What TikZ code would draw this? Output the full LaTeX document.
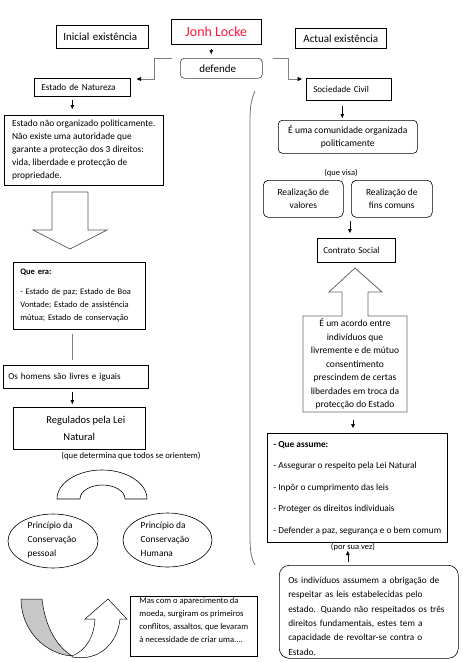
\documentclass[tikz,border=0pt]{standalone}
\usepackage{fontspec}
\setmainfont{Carlito}
\usetikzlibrary{arrows.meta,calc,shapes.geometric}
\definecolor{lockered}{RGB}{255,20,60}
\definecolor{linegray}{RGB}{128,128,128}
\newcommand{\fsz}[2]{\fontsize{#1}{#2}\selectfont}
\begin{document}
\begin{tikzpicture}[x=1pt,y=-1pt,
  box/.style={draw=black, line width=0.6pt, anchor=north west, inner sep=0pt, font=\fsz{9.4}{13}},
  rbox/.style={box, rounded corners=4pt},
  arr/.style={draw=black, line width=0.5pt, -{Triangle[length=4pt,width=3.6pt]}},
  conn/.style={draw=linegray, line width=0.8pt, -{Triangle[length=4.5pt,width=4pt,color=black]}},
  ell/.style={draw=black, line width=0.6pt, ellipse, minimum width=90pt, minimum height=54pt, inner sep=0pt},
  lbl/.style={inner sep=0pt, font=\fsz{8.5}{10}},
  shapeline/.style={line width=0.6pt}]
\fill[white] (0,0) rectangle (463,662);
\useasboundingbox (0,0) rectangle (463,662);

% top row
\node[box, minimum width=92pt, minimum height=23pt, inner xsep=7pt, text width=78pt, align=left, font=\fsz{11}{13}] (ini) at (56,25) {Inicial existência};
\node[box, minimum width=90pt, minimum height=25pt, align=center, font=\fsz{14}{16}, text=lockered] (jl) at (171,19) {Jonh Locke};
\node[box, minimum width=91pt, minimum height=20pt, font=\fsz{11}{13}] (act) at (295,28) {Actual existência};
\node[rbox, draw=black!75, minimum width=82pt, minimum height=20pt, inner xsep=19pt, text width=44pt, align=left, font=\fsz{11}{13}] (def) at (180,58) {defende};
\node[box, minimum width=96pt, minimum height=18pt, inner xsep=7pt, text width=82pt, align=left, font=\fsz{9.2}{13}] (en) at (34,78) {Estado de Natureza};
\node[box, minimum width=85pt, minimum height=22pt, inner xsep=7pt, text width=71pt, align=left, font=\fsz{9}{13}] (sc) at (306,78) {Sociedade Civil};

\draw[arr, shorten <=4pt, shorten >=4pt] ([xshift=-5pt]jl.south) -- ([xshift=-5pt]jl.south |- def.north);
\draw[conn] ($(def.north west)+(-8,0)$) -- ++(-18,0) |- ($(en.north east)+(6,1)$);
\draw[conn] ($(def.north east)+(10,0)$) -- ++(16,0) |- ($(sc.north west)+(-4,1)$);

% left column
\node[box, minimum width=159pt, minimum height=70pt, align=left] (b1) at (4,115) {Estado não organizado politicamente.\\Não existe uma autoridade que\\garante a protecção dos 3 direitos:\\vida, liberdade e protecção de\\propriedade.};
\draw[arr, shorten <=3pt, shorten >=6pt] ([xshift=-10pt]en.south) -- ([xshift=-10pt]en.south |- b1.north);

\draw[draw=black!65, line width=0.7pt] (52,192) -- (88,192) -- (88,230) -- (107,230) -- (70,249) -- (33,230) -- (52,230) -- cycle;

\node[box, minimum width=132pt, minimum height=67pt, inner xsep=7pt, text width=118pt, align=left, font=\fsz{8.5}{13}] (qe) at (13,262) {\textbf{Que era:}\\[7pt]- Estado de paz; Estado de Boa\\Vontade; Estado de assistência\\mútua; Estado de conservação};
\node[box, minimum width=145pt, minimum height=23pt, inner xsep=5pt, text width=135pt, align=left, font=\fsz{9.1}{13}] (oh) at (3,365) {Os homens são livres e iguais};
\draw[draw=linegray, line width=0.8pt, shorten <=4pt, shorten >=5pt] ([xshift=-7pt]qe.south) -- ([xshift=-7pt]qe.south |- oh.north);

\node[box, minimum width=132pt, minimum height=42pt, align=center, font=\fsz{10.5}{17}] (reg) at (13,407) {\hspace*{13pt}Regulados pela Lei\\Natural};
\draw[arr, shorten <=3pt, shorten >=3pt] ([xshift=-3.5pt]oh.south) -- ([xshift=-3.5pt]oh.south |- reg.north);

\node[lbl, font=\fsz{8.7}{10}] (qdt) at (131,456) {(que determina que todos se orientem)};

\draw[shapeline] (57,499) .. controls (57,483) and (77.2,470) .. (102,470) .. controls (126.8,470) and (147,483) .. (147,499) -- (125,499) .. controls (125,491.3) and (114.9,485) .. (102.5,485) .. controls (90.1,485) and (80,491.3) .. (80,499) -- cycle;

\node[ell] (e1) at (53,541) {};
\node[inner sep=0pt, align=left, font=\fsz{9.4}{14}] (e1t) at (52,540) {Princípio da\\Conservação\\pessoal};
\node[ell, minimum width=89pt] (e2) at (167.5,540) {};
\node[inner sep=0pt, align=left, font=\fsz{9.4}{14}] (e2t) at (165,539) {Princípio da\\Conservação\\Humana};

% curved arrow bottom left
\filldraw[fill=black!22, draw=black, line width=0.5pt] (21,599) -- (42,599) .. controls (45,625) and (55,645) .. (72,656) .. controls (45,654) and (21,630) .. (21,599) -- cycle;
\draw[fill=white, line width=0.5pt] (72,657) .. controls (100,662) and (118,642) .. (120,619) -- (127,619) -- (108,599) -- (85,619) -- (95,619) .. controls (94,638) and (85,651) .. (72,656) -- cycle;

\node[box, minimum width=127pt, minimum height=60pt, align=left, font=\fsz{8.6}{13}] (mas) at (130,596) {Mas com o aparecimento da\\moeda, surgiram os primeiros\\conflitos, assaltos, que levaram\\à necessidade de criar uma....\rule[-12pt]{0pt}{0pt}};

% separator
\draw[draw=black!55, line width=0.8pt] (255,91) .. controls (251,100) and (250,108) .. (250,120) -- (250,537) .. controls (250,550) and (251,558) .. (255,565);

% right column
\node[rbox, minimum width=139pt, minimum height=33pt, align=center, font=\fsz{9.6}{13}] (com) at (278,120) {É uma comunidade organizada\\politicamente};
\draw[arr, shorten <=5pt, shorten >=2pt] ([xshift=-6.5pt]sc.south) -- ([xshift=-6.5pt]sc.south |- com.north);

\node[lbl] (qv) at (341,173) {(que visa)};
\node[rbox, rounded corners=5pt, minimum width=80pt, minimum height=37pt, align=center] (rv) at (263,180) {Realização de\\valores};
\node[rbox, rounded corners=5pt, minimum width=81pt, minimum height=37pt, align=center] (rf) at (351,180) {Realização de\\fins comuns};

\node[box, minimum width=78pt, minimum height=24pt, inner xsep=6pt, text width=66pt, align=left, font=\fsz{9}{13}] (cs) at (317,238) {Contrato Social};
\coordinate (gap) at ($(rv.south east)!0.85!(rf.south west)$);
\draw[arr, shorten <=3pt, shorten >=5pt] (gap) -- (gap |- cs.north);

\draw[draw=black!60, line width=0.8pt] (303,316) -- (342,316) -- (342,292) -- (329,292) -- (355,268) -- (382,292) -- (368,292) -- (368,316) -- (407,316) -- (407,412) -- (303,412) -- cycle;
\coordinate (acb) at (353,412);
\node[inner sep=0pt, align=center, font=\fsz{9.5}{13.5}] (acc) at (355,364) {É um acordo entre\\indivíduos que\\livremente e de mútuo\\consentimento\\prescindem de certas\\liberdades em troca da\\protecção do Estado};

\node[box, minimum width=180pt, minimum height=109pt, align=left, font=\fsz{9.3}{21.5}] (qa) at (267,433) {\textbf{- Que assume:}\\- Assegurar o respeito pela Lei Natural\\- Inpôr o cumprimento das leis\\- Proteger os direitos individuais\\- Defender a paz, segurança e o bem comum};
\draw[arr, shorten <=8pt, shorten >=5pt] (acb) -- (acb |- qa.north);

\node[lbl] (psv) at (353,547) {(por sua vez)};

\node[box, rounded corners=10pt, minimum width=179pt, minimum height=93pt, inner xsep=9pt, text width=161pt, align=left, font=\fsz{9.3}{14.4}] (bot) at (279,565) {\rule{0pt}{15pt}Os indivíduos assumem a obrigação de\\respeitar as leis estabelecidas pelo\\estado. Quando não respeitados os três\\direitos fundamentais, estes tem a\\capacidade de revoltar-se contra o\\Estado.};
\draw[arr, shorten <=3pt] ([xshift=-21pt]bot.north) -- ([xshift=-21pt]bot.north |- psv.south);
\end{tikzpicture}
\end{document}
